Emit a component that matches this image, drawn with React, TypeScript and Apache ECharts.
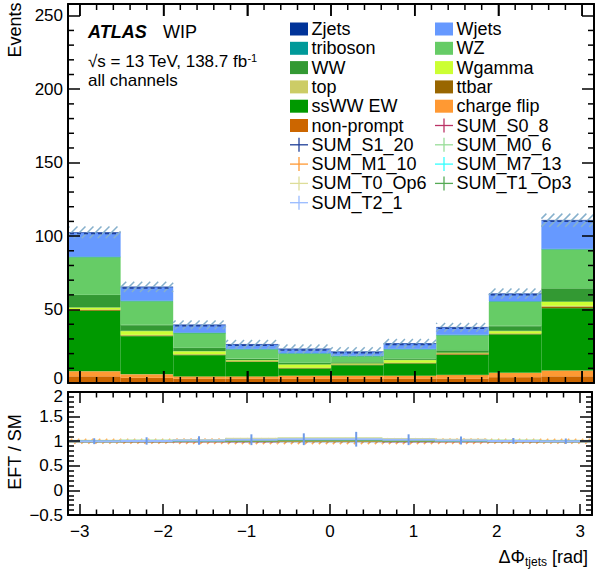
import React, { useEffect, useRef } from 'react';
import * as echarts from 'echarts';

const FONT = '"Liberation Sans", Arial, Helvetica, sans-serif';

// ---- binning ----
const PHI_MIN = -Math.PI;
const PHI_MAX = Math.PI;
const N_BINS = 10;
const binLow = Array.from({ length: N_BINS }, (_, i) => PHI_MIN + (i * (PHI_MAX - PHI_MIN)) / N_BINS);
const binHigh = binLow.map((lo) => lo + (PHI_MAX - PHI_MIN) / N_BINS);
const binCategories = binLow.map((lo, i) => `[${lo.toFixed(2)}, ${binHigh[i].toFixed(2)}]`);

// ---- SM background stack (events per bin), bottom to top ----
const nonPrompt = [4.5, 3.5, 3, 3, 3, 3, 3, 3, 4, 4.5];
const chargeFlip = [3.5, 2.5, 1.5, 1.5, 2, 2, 2, 2.5, 3, 4];
const ssWWEW = [41.3, 26, 14.6, 10, 5, 7.3, 8.4, 13.7, 26.2, 42.5];
const ttbar = [0.5, 0.4, 0.3, 0.3, 0.2, 0.3, 0.3, 1.0, 0.4, 1.1];
const topq = [0.3, 0.3, 0.2, 0.2, 0.2, 0.2, 0.2, 0.2, 0.2, 0.3];
const wgamma = [1.3, 2.7, 2, 0.5, 2.3, 0.5, 1.8, 0.3, 1.6, 3];
const ww = [8.6, 4.1, 2.3, 1, 1, 0.8, 0.9, 1.6, 3.4, 9];
const wz = [25.7, 16.3, 10.2, 6.5, 6.4, 4.2, 6.4, 10.3, 16.6, 26.6];
const triboson = [0.3, 0.2, 0.2, 0.2, 0.2, 0.2, 0.2, 0.2, 0.3, 0.3];
const wjets = [16.3, 9.3, 5.2, 3, 2.8, 2.7, 3.6, 5, 5, 19.3];
const zjets = [0.2, 0.1, 0.1, 0.1, 0.1, 0.1, 0.1, 0.1, 0.1, 0.2];
const smUncertainty = [4, 3.5, 3, 3, 3, 3, 3, 3, 3.5, 4.5];

// ---- ratio panel (EFT / SM) ----
const ratioS0_8 = [1.0, 1.0, 1.0, 1.0, 1.005, 1.005, 1.0, 1.0, 1.0, 1.0];
const ratioS1_20 = [1.0, 1.0, 1.0, 1.0, 1.0, 1.0, 1.0, 1.0, 1.0, 1.0];
const ratioM0_6 = [1.0, 1.005, 1.01, 1.02, 1.025, 1.025, 1.02, 1.01, 1.005, 1.0];
const ratioM1_10 = [1.0, 1.0, 1.0, 1.005, 1.005, 1.005, 1.005, 1.0, 1.0, 1.0];
const ratioM7_13 = [1.005, 1.01, 1.02, 1.04, 1.05, 1.05, 1.04, 1.02, 1.01, 1.005];
const ratioT0_Op6 = [1.01, 1.015, 1.025, 1.05, 1.06, 1.06, 1.045, 1.03, 1.015, 1.01];
const ratioT1_Op3 = [1.0, 1.0, 1.005, 1.01, 1.015, 1.015, 1.01, 1.005, 1.0, 1.0];
const ratioT2_1 = [1.0, 1.005, 1.015, 1.03, 1.04, 1.04, 1.03, 1.015, 1.005, 1.0];
const ratioT2_1Err = [0.06, 0.075, 0.085, 0.11, 0.12, 0.15, 0.11, 0.08, 0.06, 0.055];
const ratioSMUnc = [0.05, 0.05, 0.055, 0.06, 0.06, 0.06, 0.06, 0.055, 0.05, 0.05];

// ---- axis ticks ----
const mainYMax = 258;
const ratioYMin = -0.5;
const ratioYMax = 2;
const majorXTicks = [-3, -2, -1, 0, 1, 2, 3];
const minorXTicks = Array.from({ length: 31 }, (_, i) => i - 15)
  .filter((i) => i % 5 !== 0)
  .map((i) => i * 0.2);
const minorYTicks = Array.from({ length: 25 }, (_, i) => (i + 1) * 10).filter((v) => v % 50 !== 0);

const stackDefs = [
  { name: 'non-prompt', data: nonPrompt },
  { name: 'charge flip', data: chargeFlip },
  { name: 'ssWW EW', data: ssWWEW },
  { name: 'ttbar', data: ttbar },
  { name: 'top', data: topq },
  { name: 'Wgamma', data: wgamma },
  { name: 'WW', data: ww },
  { name: 'WZ', data: wz },
  { name: 'triboson', data: triboson },
  { name: 'Wjets', data: wjets },
  { name: 'Zjets', data: zjets },
];

const eftDefs = [
  { name: 'SUM_S0_8', data: ratioS0_8 },
  { name: 'SUM_S1_20', data: ratioS1_20 },
  { name: 'SUM_M0_6', data: ratioM0_6 },
  { name: 'SUM_M1_10', data: ratioM1_10 },
  { name: 'SUM_M7_13', data: ratioM7_13 },
  { name: 'SUM_T0_Op6', data: ratioT0_Op6 },
  { name: 'SUM_T1_Op3', data: ratioT1_Op3 },
  { name: 'SUM_T2_1', data: ratioT2_1, err: ratioT2_1Err },
];

const legendOrder = [
  'Zjets', 'Wjets', 'triboson', 'WZ', 'WW', 'Wgamma', 'top', 'ttbar', 'ssWW EW', 'charge flip',
  'non-prompt', 'SUM_S0_8', 'SUM_S1_20', 'SUM_M0_6', 'SUM_M1_10', 'SUM_M7_13', 'SUM_T0_Op6',
  'SUM_T1_Op3', 'SUM_T2_1',
];

const COLORS: Record<string, string> = {
  'non-prompt': '#cc6600',
  'charge flip': '#ff9933',
  'ssWW EW': '#009900',
  ttbar: '#996600',
  top: '#cccc66',
  Wgamma: '#ccff33',
  WW: '#339933',
  WZ: '#66cc66',
  triboson: '#009999',
  Wjets: '#6699ff',
  Zjets: '#003399',
  SUM_S0_8: '#bb3366',
  SUM_S1_20: '#1f3f99',
  SUM_M0_6: '#99dd99',
  SUM_M1_10: '#ff9933',
  SUM_M7_13: '#33ffff',
  SUM_T0_Op6: '#dddd99',
  SUM_T1_Op3: '#55aa55',
  SUM_T2_1: '#99bbff',
};

const smTotal = binLow.map((_, i) => stackDefs.reduce((s, d) => s + d.data[i], 0));

function hatchLines(x0: number, x1: number, yT: number, yB: number, step: number, style: any) {
  const out: any[] = [];
  const kStart = Math.ceil((x0 + yT) / step) * step;
  for (let k = kStart; k <= x1 + yB; k += step) {
    const xa = Math.max(x0, k - yB);
    const xb = Math.min(x1, k - yT);
    if (xb - xa > 0.5) {
      out.push({ type: 'line', shape: { x1: xa, y1: k - xa, x2: xb, y2: k - xb }, style });
    }
  }
  return out;
}

const minus = (s: string) => s.replace('-', '\u2212');

function buildOption(): any {
  const frameLine = { show: true, onZero: false, lineStyle: { color: '#000', width: 2 } };
  const tickStyle = { color: '#000', width: 1.5 };
  const labelStyle = { color: '#000', fontSize: 17, fontFamily: FONT };

  const xBase = (grid: number, position: string, tickLen: number, showLabel: boolean) => ({
    gridIndex: grid,
    type: 'value',
    min: PHI_MIN,
    max: PHI_MAX,
    splitNumber: 6,
    position,
    z: 20,
    axisLine: frameLine,
    axisTick: { show: true, inside: true, length: tickLen, lineStyle: tickStyle },
    axisLabel: {
      show: showLabel,
      ...labelStyle,
      margin: 8,
      showMinLabel: true,
      showMaxLabel: true,
      formatter: (v: number) => (Math.abs(v - Math.round(v)) < 1e-9 ? minus(String(Math.round(v))) : ''),
    },
    splitLine: { show: false },
  });

  const xAxis = [
    xBase(0, 'bottom', 12, false),
    xBase(0, 'top', 12, false),
    { gridIndex: 0, type: 'category', data: binCategories, show: false },
    xBase(1, 'bottom', 11, true),
    xBase(1, 'top', 11, false),
  ];

  const yAxis = [
    {
      gridIndex: 0, type: 'value', min: 0, max: mainYMax, interval: 50, position: 'left', z: 20,
      axisLine: frameLine,
      axisTick: { show: true, inside: true, length: 12, lineStyle: tickStyle },
      axisLabel: {
        ...labelStyle,
        margin: 5,
        formatter: (v: number) => (v === 0 ? '{b|0}' : v % 50 === 0 ? String(v) : ''),
        rich: { b: { fontSize: 17, fontFamily: FONT, color: '#000', padding: [0, 0, 9, 0] } },
      },
      splitLine: { show: false },
    },
    {
      gridIndex: 0, type: 'value', min: 0, max: mainYMax, interval: 50, position: 'right', z: 20,
      axisLine: frameLine,
      axisTick: { show: true, inside: true, length: 12, lineStyle: tickStyle },
      axisLabel: { show: false },
      splitLine: { show: false },
    },
    {
      gridIndex: 1, type: 'value', min: ratioYMin, max: ratioYMax, interval: 0.5, position: 'left', z: 20,
      axisLine: frameLine,
      axisTick: { show: true, inside: true, length: 12, lineStyle: tickStyle },
      minorTick: { show: true, splitNumber: 5, length: 6, lineStyle: tickStyle },
      axisLabel: {
        ...labelStyle,
        margin: 5,
        showMinLabel: true,
        showMaxLabel: true,
        formatter: (v: number) => (v === ratioYMax ? '{t|' + String(v) + '}' : minus(String(v))),
        rich: { t: { fontSize: 17, fontFamily: FONT, color: '#000', padding: [9, 0, 0, 0] } },
      },
      splitLine: { show: false },
    },
    {
      gridIndex: 1, type: 'value', min: ratioYMin, max: ratioYMax, interval: 0.5, position: 'right', z: 20,
      axisLine: frameLine,
      axisTick: { show: true, inside: true, length: 12, lineStyle: tickStyle },
      minorTick: { show: true, splitNumber: 5, length: 6, lineStyle: tickStyle },
      axisLabel: { show: false },
      splitLine: { show: false },
    },
  ];

  const series: any[] = [];

  stackDefs.forEach((d) => {
    series.push({
      type: 'bar',
      name: d.name,
      stack: 'sm',
      xAxisIndex: 2,
      yAxisIndex: 0,
      barCategoryGap: '0%',
      data: d.data,
      itemStyle: { color: COLORS[d.name], borderColor: COLORS[d.name], borderWidth: 0.4 },
      z: 1,
      silent: true,
    });
  });

  // SM uncertainty hatch
  series.push({
    type: 'custom',
    name: 'SM uncertainty',
    xAxisIndex: 0,
    yAxisIndex: 0,
    z: 5,
    silent: true,
    clip: false,
    encode: { x: [0, 1], y: [2] },
    data: binLow.map((lo, i) => [lo, binHigh[i], smTotal[i], smUncertainty[i]]),
    renderItem: (_p: any, api: any) => {
      const a = api.coord([api.value(0), api.value(2) + api.value(3)]);
      const b = api.coord([api.value(1), api.value(2) - api.value(3)]);
      return {
        type: 'group',
        children: hatchLines(a[0], b[0], a[1], b[1], 8, { stroke: '#86b0cc', lineWidth: 1.5 }),
      };
    },
  });

  // SM total dashed line
  series.push({
    type: 'custom',
    name: 'SM total',
    xAxisIndex: 0,
    yAxisIndex: 0,
    z: 6,
    silent: true,
    clip: false,
    encode: { x: [0, 1], y: [2] },
    data: binLow.map((lo, i) => [lo, binHigh[i], smTotal[i]]),
    renderItem: (_p: any, api: any) => {
      const a = api.coord([api.value(0), api.value(2)]);
      const b = api.coord([api.value(1), api.value(2)]);
      return {
        type: 'line',
        shape: { x1: a[0] + 2, y1: a[1] + 1, x2: b[0] - 2, y2: b[1] + 1 },
        style: { stroke: '#1f3f99', lineWidth: 1.5, lineDash: [4, 3] },
      };
    },
  });

  // x ticks drawn on top of the stack (major + minor), top and bottom of each panel
  const xTicks = (values: number[], grid: number, xi: number, yi: number, len: number) => ({
    type: 'custom',
    xAxisIndex: xi,
    yAxisIndex: yi,
    z: 30,
    silent: true,
    clip: false,
    encode: { x: 0, y: 1 },
    data: values.map((v) => [v, grid === 0 ? 0 : 1]),
    renderItem: (params: any, api: any) => {
      const cs = params.coordSys;
      const px = api.coord([api.value(0), api.value(1)])[0];
      const st = { stroke: '#000', lineWidth: 1.5 };
      return {
        type: 'group',
        children: [
          { type: 'line', shape: { x1: px, y1: cs.y + cs.height, x2: px, y2: cs.y + cs.height - len }, style: st },
          { type: 'line', shape: { x1: px, y1: cs.y, x2: px, y2: cs.y + len }, style: st },
        ],
      };
    },
  });

  series.push(xTicks(minorXTicks, 0, 0, 0, 6));
  series.push(xTicks(majorXTicks, 0, 0, 0, 12));
  series.push(xTicks(minorXTicks, 1, 3, 2, 5.5));

  series.push({
    type: 'custom',
    xAxisIndex: 0,
    yAxisIndex: 0,
    z: 30,
    silent: true,
    clip: false,
    encode: { x: 0, y: 1 },
    data: minorYTicks.map((v) => [0, v]),
    renderItem: (params: any, api: any) => {
      const cs = params.coordSys;
      const py = api.coord([api.value(0), api.value(1)])[1];
      const st = { stroke: '#000', lineWidth: 1.5 };
      return {
        type: 'group',
        children: [
          { type: 'line', shape: { x1: cs.x, y1: py, x2: cs.x + 6, y2: py }, style: st },
          { type: 'line', shape: { x1: cs.x + cs.width, y1: py, x2: cs.x + cs.width - 6, y2: py }, style: st },
        ],
      };
    },
  });

  // ratio: SM uncertainty hatch (orange)
  series.push({
    type: 'custom',
    name: 'SM unc ratio',
    xAxisIndex: 3,
    yAxisIndex: 2,
    z: 2,
    silent: true,
    clip: false,
    encode: { x: [0, 1], y: [2] },
    data: binLow.map((lo, i) => [lo, binHigh[i], 1, ratioSMUnc[i]]),
    renderItem: (_p: any, api: any) => {
      const a = api.coord([api.value(0), api.value(2) + api.value(3)]);
      const b = api.coord([api.value(1), api.value(2) - api.value(3)]);
      return {
        type: 'group',
        children: hatchLines(a[0], b[0], a[1], b[1], 7, { stroke: '#ffaa55', lineWidth: 1.5 }),
      };
    },
  });

  series.push({
    type: 'line',
    xAxisIndex: 3,
    yAxisIndex: 2,
    data: [[PHI_MIN, 1], [PHI_MAX, 1]],
    symbol: 'none',
    lineStyle: { color: '#000', width: 1.5 },
    z: 3,
    silent: true,
  });

  eftDefs.forEach((d, idx) => {
    const color = COLORS[d.name];
    series.push({
      type: 'custom',
      name: d.name,
      xAxisIndex: 3,
      yAxisIndex: 2,
      z: 4 + idx * 0.01,
      silent: true,
      clip: false,
      encode: { x: [0, 1], y: [2] },
      data: binLow.map((lo, i) => [lo, binHigh[i], d.data[i], d.err ? d.err[i] : 0]),
      renderItem: (_p: any, api: any) => {
        const lo = api.value(0);
        const hi = api.value(1);
        const v = api.value(2);
        const e = api.value(3);
        const a = api.coord([lo, v]);
        const b = api.coord([hi, v]);
        const children: any[] = [
          { type: 'line', shape: { x1: a[0], y1: a[1], x2: b[0], y2: b[1] }, style: { stroke: color, lineWidth: 2 } },
        ];
        if (e > 0) {
          const m = api.coord([(lo + hi) / 2, v + e]);
          const n = api.coord([(lo + hi) / 2, v - e]);
          children.push({
            type: 'line',
            shape: { x1: m[0], y1: m[1], x2: n[0], y2: n[1] },
            style: { stroke: '#6f9be8', lineWidth: 2 },
          });
        }
        return { type: 'group', children };
      },
    });
  });

  // ---- graphics: legend and texts ----
  const graphic: any[] = [];
  const colX = [290, 435];
  const rowY0 = 29;
  const rowDy = 19.3;
  legendOrder.forEach((name, i) => {
    const x = colX[i % 2];
    const y = rowY0 + Math.floor(i / 2) * rowDy;
    const color = COLORS[name];
    if (name.startsWith('SUM_')) {
      graphic.push({ type: 'line', shape: { x1: x, y1: y, x2: x + 18, y2: y }, style: { stroke: color, lineWidth: 1.3 } });
      graphic.push({ type: 'line', shape: { x1: x + 9, y1: y - 7, x2: x + 9, y2: y + 7 }, style: { stroke: color, lineWidth: 1.3 } });
    } else {
      graphic.push({ type: 'rect', shape: { x, y: y - 6.5, width: 18, height: 13 }, style: { fill: color } });
    }
    graphic.push({
      type: 'text',
      x: x + 21.5,
      y,
      style: { text: name, fontSize: 18, fontFamily: FONT, fill: '#000', verticalAlign: 'middle', align: 'left' },
    });
  });

  graphic.push({
    type: 'text', x: 88, y: 32,
    style: { text: 'ATLAS', fontSize: 18, fontWeight: 'bold', fontStyle: 'italic', fontFamily: FONT, fill: '#000', verticalAlign: 'middle' },
  });
  graphic.push({
    type: 'text', x: 163, y: 32,
    style: { text: 'WIP', fontSize: 18, fontFamily: FONT, fill: '#000', verticalAlign: 'middle' },
  });
  graphic.push({
    type: 'text', x: 88, y: 61,
    style: {
      text: '√s = 13 TeV, 138.7 fb{sup|-1}',
      fontSize: 17, fontFamily: FONT, fill: '#000', verticalAlign: 'middle',
      rich: { sup: { fontSize: 11, fontFamily: FONT, fill: '#000', verticalAlign: 'top', padding: [0, 0, 6, 0] } },
    },
  });
  graphic.push({
    type: 'text', x: 88, y: 80,
    style: { text: 'all channels', fontSize: 17, fontFamily: FONT, fill: '#000', verticalAlign: 'middle' },
  });
  graphic.push({
    type: 'text', x: 15, y: 30, rotation: Math.PI / 2,
    style: { text: 'Events', fontSize: 18, fontFamily: FONT, fill: '#000', align: 'center', verticalAlign: 'middle' },
  });
  graphic.push({
    type: 'text', x: 15, y: 452, rotation: Math.PI / 2,
    style: { text: 'EFT / SM', fontSize: 18, fontFamily: FONT, fill: '#000', align: 'center', verticalAlign: 'middle' },
  });
  graphic.push({
    type: 'text', x: 588, y: 557,
    style: {
      text: '{n|ΔΦ}{s|tjets}{n| [rad]}',
      align: 'right', verticalAlign: 'middle', fill: '#000',
      rich: {
        n: { fontSize: 18, fontFamily: FONT, fill: '#000', lineHeight: 22 },
        s: { fontSize: 12, fontFamily: FONT, fill: '#000', verticalAlign: 'bottom', padding: [6, 0, 0, 0] },
      },
    },
  });

  return {
    animation: false,
    backgroundColor: '#fff',
    grid: [
      { left: 68, top: 4, width: 526, height: 379 },
      { left: 68, top: 392, width: 526, height: 123 },
    ],
    xAxis,
    yAxis,
    series,
    graphic,
  };
}

export default function App() {
  const ref = useRef<HTMLDivElement>(null);
  useEffect(() => {
    if (!ref.current) return;
    const chart = echarts.init(ref.current, null, { renderer: 'svg' });
    chart.setOption(buildOption());
    return () => chart.dispose();
  }, []);
  return (
    <div
      ref={ref}
      style={{ position: 'fixed', left: 0, top: 0, width: 595, height: 580, background: '#fff' }}
    />
  );
}
